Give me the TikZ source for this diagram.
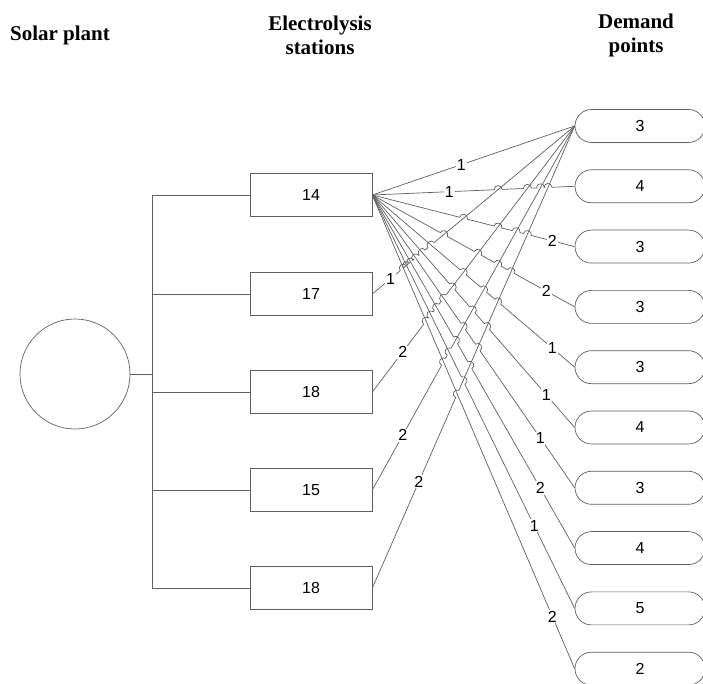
\documentclass[tikz,border=0pt]{standalone}
\usepackage{fontspec}
\setmainfont{Liberation Serif}
\newfontfamily\numfont{Liberation Sans}
\definecolor{edge}{RGB}{95,95,95}
\begin{document}
\begin{tikzpicture}[x=1pt,y=1pt,
    wire/.style={draw=edge,line width=0.7pt},
    station/.style={draw=edge,line width=0.7pt,minimum width=122pt,minimum height=43pt,
        inner sep=0pt,font=\numfont\fontsize{16}{19}\selectfont},
    demand/.style={draw=edge,line width=0.7pt,rounded corners=16.5pt,minimum width=130pt,
        minimum height=33pt,inner sep=0pt,font=\numfont\fontsize{16}{19}\selectfont},
    plant/.style={circle,draw=edge,line width=0.7pt,minimum size=110pt,inner sep=0pt},
    flow/.style={fill=white,inner sep=1pt,font=\numfont\fontsize{16}{18}\selectfont},
    title/.style={font=\bfseries\fontsize{21}{24}\selectfont,align=center}]
    \useasboundingbox (0,0) rectangle (703,684);
    \def\hop{4}

    % titles
    \node[title] (ttlplant) at (60,649) {Solar plant};
    \node[title] (ttlstation) at (320,649) {Electrolysis\\stations};
    \node[title] (ttldemand) at (636,649) {Demand\\points};

    % plant and stations
    \node[plant] (sun) at (75,310) {};
    \coordinate (bus) at (152,310);
    \foreach \j/\ys/\cap in {1/489/14,2/390/17,3/292/18,4/194/15,5/96/18}
        \node[station] (st\j) at (311,\ys) {\cap};
    \draw[wire] (sun.east) -- (bus);
    \draw[wire] (bus |- st1) -- (bus |- st5);
    \foreach \j in {1,...,5}
        \draw[wire] (bus |- st\j) -- (st\j.west);

    % demand points
    \foreach \k/\yk/\dem in {1/558/3,2/497.7/4,3/437.4/3,4/377.1/3,5/316.8/3,
                             6/256.5/4,7/196.2/3,8/135.9/4,9/75.6/5,10/15.3/2}
        \node[demand] (dm\k) at (640,\yk) {\dem};

    % station 14 to every demand point, hopping the flatter crossings
    \draw[wire] (st1.east) -- (dm1.west);
    \foreach \k/\yk in {2/497.7,3/437.4,4/377.1,5/316.8,6/256.5,7/196.2,8/135.9,9/75.6,10/15.3}{
        \pgfmathsetmacro\ang{atan((\yk-489)/203)}
        \gdef\hoppath{}
        \foreach \ys in {390,292,194,96}{
            \pgfmathsetmacro\tp{(489-\ys)/(1047-\yk-\ys)}
            \pgfmathsetmacro\hr{abs(\yk-489)<abs(558-\ys)?\hop:0.01}
            \pgfmathsetmacro\px{372+203*\tp}
            \pgfmathsetmacro\py{489+\tp*(\yk-489)}
            \xdef\hoppath{\hoppath -- ([shift={(\ang+180:\hr)}]\px,\py)
                arc[start angle=\ang+180,end angle=\ang,radius=\hr]}
        }
        \draw[wire] (st1.east) \hoppath -- (dm\k.west);
    }
    % other stations up to the first demand point
    \foreach \j/\ys in {2/390,3/292,4/194,5/96}{
        \pgfmathsetmacro\ang{atan((558-\ys)/203)}
        \gdef\hoppath{}
        \foreach \yk in {15.3,75.6,135.9,196.2,256.5,316.8,377.1,437.4,497.7}{
            \pgfmathsetmacro\tp{(489-\ys)/(1047-\yk-\ys)}
            \pgfmathsetmacro\hr{abs(558-\ys)<abs(\yk-489)?\hop:0.01}
            \pgfmathsetmacro\px{372+203*\tp}
            \pgfmathsetmacro\py{\ys+\tp*(558-\ys)}
            \xdef\hoppath{\hoppath -- ([shift={(\ang+180:\hr)}]\px,\py)
                arc[start angle=\ang+180,end angle=\ang,radius=\hr]}
        }
        \draw[wire] (st\j.east) \hoppath -- (dm1.west);
    }

    % flow labels
    \foreach \k/\n/\p in {1/1/0.44,2/1/0.38,3/2/0.89,4/2/0.86,5/1/0.89,
                          6/1/0.86,7/1/0.83,8/2/0.83,9/1/0.80,10/2/0.89}
        \path (st1.east) -- (dm\k.west) node[flow,pos=\p] {\n};
    \foreach \j/\n/\p in {2/1/0.09,3/2/0.15,4/2/0.15,5/2/0.23}
        \path (st\j.east) -- (dm1.west) node[flow,pos=\p] {\n};
\end{tikzpicture}
\end{document}
